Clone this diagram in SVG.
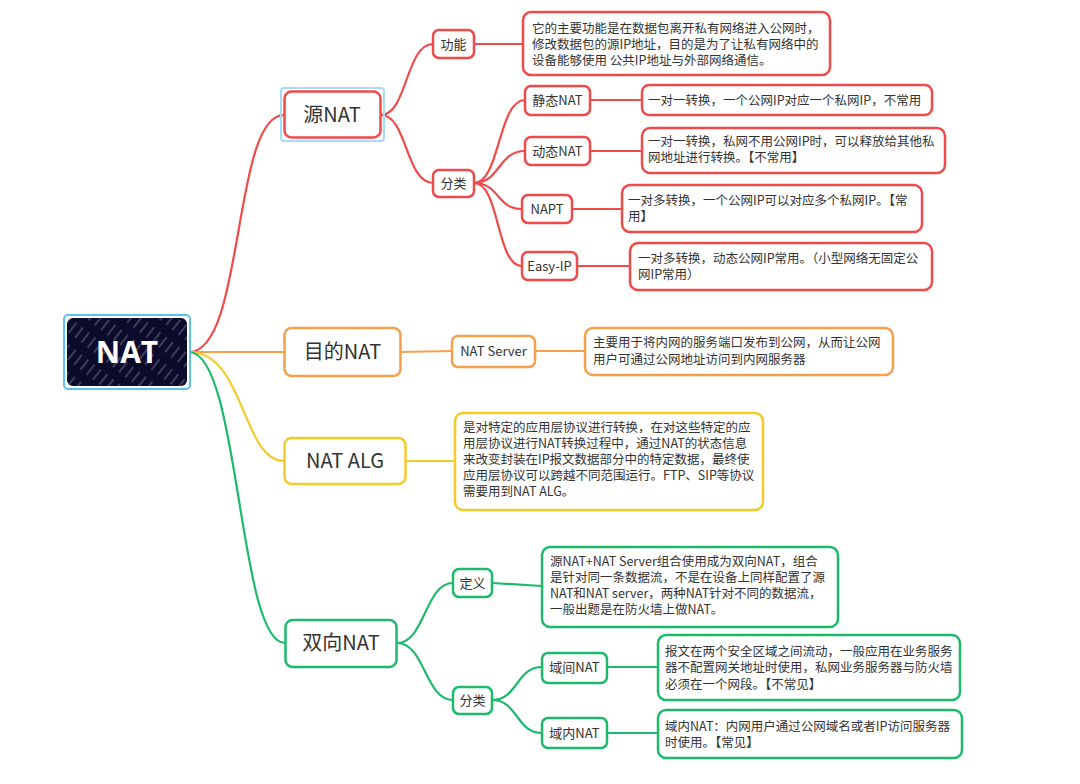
<svg xmlns="http://www.w3.org/2000/svg" width="1080" height="784" viewBox="0 0 1080 784">
<style>
text{font-family:"Noto Sans CJK SC","Noto Sans",sans-serif;fill:#333}
.main{font-size:20px}
.sub{font-size:13px}
.desc{font-size:12.5px}
.box{fill:#fff;stroke-width:2.5}
.r{stroke:#f04a4a}.o{stroke:#f6a04c}.y{stroke:#f3cb2a}.g{stroke:#1dba6c}
.ln{fill:none;stroke-width:2.2}
</style>
<defs>
<pattern id="hatch" width="22" height="8" patternUnits="userSpaceOnUse" patternTransform="rotate(-52)">
<rect width="22" height="8" fill="#0b0b2c"/>
<line x1="0" y1="3" x2="13" y2="3" stroke="#ffffff" stroke-opacity="0.45" stroke-width="0.9"/>
</pattern>
</defs>
<rect width="1080" height="784" fill="#fff"/>
<g id="connectors">
<path class="ln r" d="M189,352 C245,352 232,115 284,115"/>
<path class="ln o" d="M189,352 L284,352"/>
<path class="ln y" d="M189,352 C245,352 242,461 284,461"/>
<path class="ln g" d="M189,352 C240,352 238,643 285,643"/>
<path class="ln r" d="M381,115 C407,115 406,44 433,44"/>
<path class="ln r" d="M381,115 C407,115 406,183 433,183"/>
<path class="ln r" d="M474,44 L523,44"/>
<path class="ln r" d="M474,183 C500,183 498,100 525,100"/>
<path class="ln r" d="M474,183 C500,183 498,151 525,151"/>
<path class="ln r" d="M474,183 C500,183 496,209 522,209"/>
<path class="ln r" d="M474,183 C500,183 496,266 522,266"/>
<path class="ln r" d="M590,100 L642,100"/>
<path class="ln r" d="M590,151 L642,151"/>
<path class="ln r" d="M572,209 L622,209"/>
<path class="ln r" d="M577,266 L630,266"/>
<path class="ln o" d="M400,352 L452,351"/>
<path class="ln o" d="M535,351 L585,351"/>
<path class="ln y" d="M406,461 L455,461"/>
<path class="ln g" d="M397,643 C425,643 425,583 453,583"/>
<path class="ln g" d="M397,643 C425,643 425,700 453,700"/>
<path class="ln g" d="M492,583 L542,586"/>
<path class="ln g" d="M492,700 C518,700 516,667 542,667"/>
<path class="ln g" d="M492,700 C518,700 516,733 542,733"/>
<path class="ln g" d="M607,667 L658,667"/>
<path class="ln g" d="M607,733 L658,733"/>
</g>
<g id="root">
<rect x="64" y="315" width="126" height="74" rx="4" fill="none" stroke="#5cc2f4" stroke-width="2"/>
<rect x="67" y="318" width="120" height="68" rx="6" fill="url(#hatch)"/>
<text x="127" y="363" text-anchor="middle" style="font-family:'Open Sans','Noto Sans',sans-serif;font-size:30px;font-weight:bold;fill:#fff">NAT</text>
</g>
<g id="src-nat">
<rect x="281" y="88" width="103" height="53" rx="3" fill="none" stroke="#a8dcf6" stroke-width="2"/>
<rect class="box r" x="284.5" y="91.5" width="96" height="46" rx="7"/>
<text class="main" x="332" y="122" text-anchor="middle">源NAT</text>
</g>
<g id="func">
<rect class="box r" x="433" y="30" width="41" height="28" rx="6"/>
<text class="sub" x="453.5" y="49" text-anchor="middle">功能</text>
</g>
<g id="func-desc">
<rect class="box r" x="523" y="12" width="307" height="63" rx="8"/>
<text class="desc"><tspan x="532" y="33">它的主要功能是在数据包离开私有网络进入公网时，</tspan><tspan x="532" y="49">修改数据包的源IP地址，目的是为了让私有网络中的</tspan><tspan x="532" y="65">设备能够使用 公共IP地址与外部网络通信。</tspan></text>
</g>
<g id="src-class">
<rect class="box r" x="433" y="170" width="41" height="27" rx="6"/>
<text class="sub" x="453.5" y="188" text-anchor="middle">分类</text>
</g>
<g id="static-nat">
<rect class="box r" x="525" y="86" width="65" height="29" rx="6"/>
<text class="sub" x="557.5" y="105" text-anchor="middle">静态NAT</text>
</g>
<g id="static-desc">
<rect class="box r" x="642" y="85" width="290" height="30" rx="7"/>
<text class="desc" x="648" y="105">一对一转换，一个公网IP对应一个私网IP，不常用</text>
</g>
<g id="dynamic-nat">
<rect class="box r" x="525" y="137" width="65" height="28" rx="6"/>
<text class="sub" x="557.5" y="156" text-anchor="middle">动态NAT</text>
</g>
<g id="dynamic-desc">
<rect class="box r" x="642" y="128" width="303" height="45" rx="8"/>
<text class="desc"><tspan x="648" y="146">一对一转换，私网不用公网IP时，可以释放给其他私</tspan><tspan x="648" y="162">网地址进行转换。【不常用】</tspan></text>
</g>
<g id="napt">
<rect class="box r" x="522" y="195" width="50" height="28" rx="6"/>
<text class="sub" x="547" y="214" text-anchor="middle">NAPT</text>
</g>
<g id="napt-desc">
<rect class="box r" x="622" y="185" width="300" height="47" rx="8"/>
<text class="desc"><tspan x="628" y="205">一对多转换，一个公网IP可以对应多个私网IP。【常</tspan><tspan x="628" y="221">用】</tspan></text>
</g>
<g id="easy-ip">
<rect class="box r" x="522" y="252" width="55" height="28" rx="6"/>
<text class="sub" x="549.5" y="271" text-anchor="middle">Easy-IP</text>
</g>
<g id="easy-desc">
<rect class="box r" x="630" y="243" width="302" height="47" rx="8"/>
<text class="desc"><tspan x="638" y="263">一对多转换，动态公网IP常用。（小型网络无固定公</tspan><tspan x="638" y="279">网IP常用）</tspan></text>
</g>
<g id="dst-nat">
<rect class="box o" x="284.5" y="328" width="116" height="48" rx="7"/>
<text class="main" x="342.5" y="359" text-anchor="middle">目的NAT</text>
</g>
<g id="nat-server">
<rect class="box o" x="452" y="336" width="83" height="31" rx="6"/>
<text class="sub" x="493.5" y="356" text-anchor="middle">NAT Server</text>
</g>
<g id="server-desc">
<rect class="box o" x="585" y="328" width="308" height="47" rx="8"/>
<text class="desc"><tspan x="593" y="347">主要用于将内网的服务端口发布到公网，从而让公网</tspan><tspan x="593" y="364">用户可通过公网地址访问到内网服务器</tspan></text>
</g>
<g id="nat-alg">
<rect class="box y" x="284.5" y="438" width="121" height="46" rx="7"/>
<text class="main" x="345" y="468" text-anchor="middle">NAT ALG</text>
</g>
<g id="alg-desc">
<rect class="box y" x="455" y="413" width="308" height="97" rx="8"/>
<text class="desc"><tspan x="463" y="432">是对特定的应用层协议进行转换，在对这些特定的应</tspan><tspan x="463" y="448">用层协议进行NAT转换过程中，通过NAT的状态信息</tspan><tspan x="463" y="464">来改变封装在IP报文数据部分中的特定数据，最终使</tspan><tspan x="463" y="480">应用层协议可以跨越不同范围运行。FTP、SIP等协议</tspan><tspan x="463" y="496">需要用到NAT ALG。</tspan></text>
</g>
<g id="bi-nat">
<rect class="box g" x="285.5" y="620" width="111" height="47" rx="7"/>
<text class="main" x="341" y="650" text-anchor="middle">双向NAT</text>
</g>
<g id="definition">
<rect class="box g" x="453" y="569" width="39" height="28" rx="6"/>
<text class="sub" x="472.5" y="588" text-anchor="middle">定义</text>
</g>
<g id="def-desc">
<rect class="box g" x="542" y="547" width="296" height="80" rx="8"/>
<text class="desc"><tspan x="550" y="566">源NAT+NAT Server组合使用成为双向NAT，组合</tspan><tspan x="550" y="582">是针对同一条数据流，不是在设备上同样配置了源</tspan><tspan x="550" y="598">NAT和NAT server，两种NAT针对不同的数据流，</tspan><tspan x="550" y="614">一般出题是在防火墙上做NAT。</tspan></text>
</g>
<g id="bi-class">
<rect class="box g" x="453" y="687" width="39" height="27" rx="6"/>
<text class="sub" x="472.5" y="705" text-anchor="middle">分类</text>
</g>
<g id="inter-nat">
<rect class="box g" x="542" y="653" width="65" height="30" rx="6"/>
<text class="sub" x="574.5" y="672" text-anchor="middle">域间NAT</text>
</g>
<g id="inter-desc">
<rect class="box g" x="658" y="635" width="302" height="65" rx="8"/>
<text class="desc"><tspan x="665" y="656">报文在两个安全区域之间流动，一般应用在业务服务</tspan><tspan x="665" y="672">器不配置网关地址时使用，私网业务服务器与防火墙</tspan><tspan x="665" y="689">必须在一个网段。【不常见】</tspan></text>
</g>
<g id="intra-nat">
<rect class="box g" x="542" y="718" width="65" height="30" rx="6"/>
<text class="sub" x="574.5" y="738" text-anchor="middle">域内NAT</text>
</g>
<g id="intra-desc">
<rect class="box g" x="658" y="710" width="304" height="48" rx="8"/>
<text class="desc"><tspan x="665" y="731">域内NAT：内网用户通过公网域名或者IP访问服务器</tspan><tspan x="665" y="747">时使用。【常见】</tspan></text>
</g>
</svg>
